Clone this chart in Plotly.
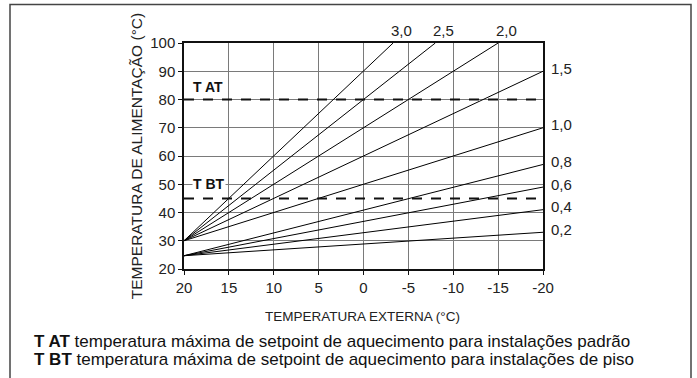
# Curvas de aquecimento - temperatura de alimentação x temperatura externa
import plotly.graph_objects as go

# %%
# Dados
curve_labels = ["3,0", "2,5", "2,0", "1,5", "1,0", "0,8", "0,6", "0,4", "0,2"]
curve_x_start = [20, 20, 20, 20, 20, 20, 20, 20, 20]
curve_y_start = [30, 30, 30, 30, 30, 24.7, 24.7, 24.7, 24.7]
curve_x_end = [-3.3, -8, -15, -20, -20, -20, -20, -20, -20]
curve_y_end = [100, 100, 100, 90, 70, 57, 49, 41, 33]

limit_names = ["T AT", "T BT"]
limit_values = [80, 45]
limit_label_y = [84.5, 50]

x_ticks = [20, 15, 10, 5, 0, -5, -10, -15, -20]
y_ticks = [20, 30, 40, 50, 60, 70, 80, 90, 100]

footer_bold = ["T AT", "T BT"]
footer_text = ["temperatura máxima de setpoint de aquecimento para instalações padrão",
               "temperatura máxima de setpoint de aquecimento para instalações de piso"]

# %%
W, H = 697, 378
L, R, T, B = 184, 543, 43, 269  # area do grafico em pixels
FONT = "Liberation Sans, Arial, sans-serif"


def px_x(p):
    "pixel horizontal -> coordenada paper"
    return (p - L) / (R - L)


def px_y(p):
    "pixel vertical -> coordenada paper"
    return (B - p) / (B - T)


fig = go.Figure()

for i in range(len(curve_labels)):
    fig.add_trace(go.Scatter(x=[curve_x_start[i], curve_x_end[i]],
                             y=[curve_y_start[i], curve_y_end[i]],
                             mode='lines', line=dict(color='black', width=1),
                             hoverinfo='skip', showlegend=False))
    if curve_y_end[i] >= 100:
        fig.add_annotation(x=curve_x_end[i], y=100, text=curve_labels[i],
                           showarrow=False, xanchor='center', yanchor='bottom',
                           xshift=8, yshift=2, font=dict(size=15, color='#222'))
    else:
        fig.add_annotation(x=curve_x_end[i], y=curve_y_end[i], text=curve_labels[i],
                           showarrow=False, xanchor='left', yanchor='middle',
                           xshift=6, yshift=3, font=dict(size=15, color='#222'))

for name, val, ly in zip(limit_names, limit_values, limit_label_y):
    fig.add_trace(go.Scatter(x=[20, -20], y=[val, val], mode='lines',
                             line=dict(color='#111', width=2, dash='10px,9px'),
                             hoverinfo='skip', showlegend=False))
    fig.add_annotation(x=19.1, y=ly, text=f"<b>{name}</b>", showarrow=False,
                       xanchor='left', yanchor='middle', bgcolor='white', borderpad=0,
                       font=dict(size=14, color='#111'))

# moldura externa
fig.add_shape(type='rect', xref='paper', yref='paper',
              x0=px_x(10), x1=px_x(691), y0=px_y(4.5), y1=px_y(400),
              line=dict(color='#444', width=1.5), layer='below')

fig.add_annotation(xref='paper', yref='paper', x=px_x(362), y=px_y(316.5),
                   text="TEMPERATURA EXTERNA (°C)", showarrow=False,
                   xanchor='center', yanchor='middle', font=dict(size=13.5, color='#222'))

for k in range(len(footer_bold)):
    fig.add_annotation(xref='paper', yref='paper', x=px_x(33), y=px_y(341.5 + 17.5 * k),
                       text=f"<b>{footer_bold[k]}</b> {footer_text[k]}", showarrow=False,
                       xanchor='left', yanchor='middle', borderpad=0,
                       font=dict(size=17, color='#111'))

axis_common = dict(showline=True, linecolor='#111', linewidth=1.5, mirror=True,
                   showgrid=True, gridcolor='#7a7a7a', gridwidth=1,
                   ticks='outside', ticklen=4, tickcolor='#111', zeroline=False,
                   tickfont=dict(size=15, color='#222', family=FONT))

fig.update_layout(width=W, height=H, margin=dict(l=L, r=W - R, t=T, b=H - B),
                  paper_bgcolor='white', plot_bgcolor='white',
                  font=dict(family=FONT),
                  xaxis=dict(range=[20, -20], tickvals=x_ticks,
                             ticktext=[str(v) for v in x_ticks], **axis_common),
                  yaxis=dict(range=[20, 100], tickvals=y_ticks,
                             title=dict(text="TEMPERATURA DE ALIMENTAÇÃO (°C)",
                                        font=dict(size=15.5, color='#222'), standoff=4),
                             **axis_common))

# tira a margem padrao do body para o grafico ficar no canto
fig.write_html("out.html", config={'displayModeBar': False},
               post_script="document.body.style.margin='0';")
